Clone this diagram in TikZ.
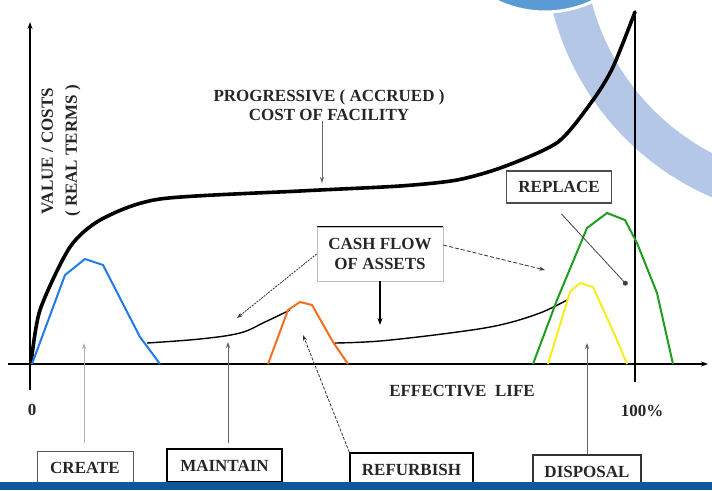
\documentclass[tikz,border=0pt]{standalone}
\usepackage{fontspec}
\setmainfont{Liberation Serif}
\usetikzlibrary{arrows.meta,calc}
\definecolor{bandblue}{HTML}{B4C7E7}
\definecolor{discblue}{HTML}{5B9BD5}
\definecolor{barblue}{HTML}{10569A}
\definecolor{cblue}{HTML}{1E7BE8}
\definecolor{corange}{HTML}{F07020}
\definecolor{cgreen}{HTML}{1E9E1E}
\definecolor{cyellow}{HTML}{F5EE1A}
\begin{document}
\begin{tikzpicture}[x=1pt,y=-1pt,
  txt/.style={font=\bfseries\fontsize{17}{20}\selectfont, inner sep=0pt, text=black!85},
  labbox/.style={txt, draw=black, line width=1.4pt, minimum height=33pt, inner sep=0pt},
  axisline/.style={line width=1.6pt, -{Stealth[length=7pt,width=5pt]}},
  thinarr/.style={line width=0.8pt, draw=black!60, -{Stealth[length=6pt,width=4pt,fill=black]}},
  costcurve/.style={line width=3.6pt, line join=round, line cap=round},
  flowcurve/.style={line width=1.4pt},
  peak/.style={line width=2pt, line join=round}
]
\useasboundingbox (0,0) rectangle (712,490);
% background decoration
\begin{scope}
  \clip (0,0) rectangle (712,490);
  \draw[bandblue, line width=40pt] (822,-58) ++(183:258pt) arc[start angle=183, end angle=262, radius=258pt];
  \fill[discblue, draw=white, line width=3pt] (545,-100) circle[radius=112pt];
\end{scope}
\fill[barblue] (0,482) rectangle (712,490);

% axes
\draw[axisline] (30,390) -- (30,22);
\draw[axisline] (8,364) -- (708,364);
\draw[line width=1.4pt] (635,12) -- (635,382);

% curves
\draw[costcurve] plot[smooth, tension=0.45] coordinates {(31,364) (40,310) (70,247) (102,219) (160,199) (300,191) (400,186) (457,180) (503,167) (558,142) (593,100) (613,67) (635,12)};
\draw[peak, cblue] (32,364) -- (65,275) -- (85,259) -- (103,265) -- (140,337) -- (146,345) -- (160,364);
\draw[flowcurve] plot[smooth, tension=0.6] coordinates {(147,343) (200,339) (240,333) (265,322) (290,310)};
\draw[peak, corange] (268,364) -- (288,310) -- (300,302) -- (312,305) -- (333,342) -- (348,364);
\draw[flowcurve] plot[smooth, tension=0.6] coordinates {(335,343) (380,341) (450,333) (500,325) (540,313) (567,300)};
\draw[peak, cgreen] (533,364) -- (557,300) -- (587,228) -- (607,213) -- (625,220) -- (637,243) -- (657,293) -- (673,364);
\draw[peak, cyellow] (548,364) -- (570,292) -- (580,283) -- (593,287) -- (617,340) -- (627,364);

% axis labels
\node[txt, rotate=90, align=center, font=\bfseries\fontsize{17}{24}\selectfont] (ylab) at (61,151) {VALUE / COSTS\\( REAL TERMS )};
\node[txt] (zero) at (32,410) {0};
\node[txt] (hundred) at (642,411) {100\%};
\node[txt] (elife) at (462,391) {EFFECTIVE \ LIFE};

% progressive cost label
\node[txt, align=center, font=\bfseries\fontsize{17}{19}\selectfont] (prog) at (329,105) {PROGRESSIVE ( ACCRUED )\\COST OF FACILITY};
\coordinate (pc) at (322,183);
\draw[thinarr] (prog.south -| pc) -- (pc);

% cash flow box
\node[txt, align=center, draw=black!25, line width=0.8pt, minimum width=126pt, minimum height=54pt, font=\bfseries\fontsize{17}{20}\selectfont] (cf) at (380,254) {CASH FLOW\\OF ASSETS};
\draw[line width=1.4pt] (cf.north west) -- (cf.north east);
\coordinate (cf1) at (237,318);
\coordinate (cf2) at (545,270);
\coordinate (cf3) at (380,325);
\draw[thinarr, draw=black!80, dash pattern=on 2pt off 1pt] (cf.west) -- (cf1);
\draw[thinarr, draw=black!80, dash pattern=on 4pt off 2pt] (cf.8) -- (cf2);
\draw[line width=1.2pt, -{Stealth[length=7pt,width=5pt]}] (cf.south) -- (cf3);

% replace box
\node[labbox, draw=black!70, minimum width=105pt, minimum height=32pt] (rep) at (559,187) {REPLACE};
\coordinate (rt) at (627,285);
\draw[thinarr, draw=black!75, shorten <=14pt, -{Circle[length=5pt]}] ([xshift=-7pt]rep.south) -- (rt);

% bottom labels
\node[labbox, draw=black!65, line width=1pt, minimum width=96pt, minimum height=34pt] (create) at (85,468) {CREATE};
\node[labbox, minimum width=115pt] (maintain) at (224.5,465.5) {MAINTAIN};
\node[labbox, minimum width=123pt, minimum height=34pt] (refurb) at (411.5,470) {REFURBISH};
\node[labbox, draw=black!80, minimum width=108pt, minimum height=34pt] (disp) at (587,472) {DISPOSAL};
\fill[barblue] (0,482) rectangle (712,490);

\coordinate (ca) at (84,343);
\coordinate (ma) at (228,342);
\coordinate (ra) at (303,335);
\coordinate (da) at (587,343);
\draw[thinarr, draw=black!30, shorten <=8pt] (create.north -| ca) -- (ca);
\draw[thinarr, shorten <=5pt] (maintain.north -| ma) -- (ma);
\draw[thinarr, draw=black!80, dash pattern=on 3pt off 1.5pt] (refurb.north west) -- (ra);
\draw[thinarr] (disp.north) -- (da);
\end{tikzpicture}
\end{document}
